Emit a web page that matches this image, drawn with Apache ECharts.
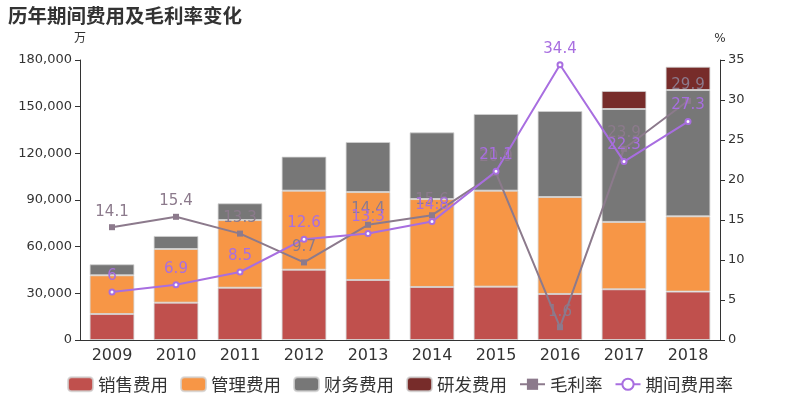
<!DOCTYPE html>
<html><head><meta charset="utf-8">
<script src="https://cdn.jsdelivr.net/npm/echarts@6/dist/echarts.min.js"></script>
<style>html,body{margin:0;padding:0;background:#fff}#c{width:800px;height:400px}</style>
</head><body><div id="c"></div>
<script>
const years = ['2009','2010','2011','2012','2013','2014','2015','2016','2017','2018'];
const sales = [16700, 24000, 33600, 45200, 38600, 34100, 34300, 29600, 32600, 31100];
const admin = [24900, 34500, 43500, 50800, 56500, 56500, 61700, 62300, 43300, 48400];
const finance = [7100, 8400, 10800, 21900, 32200, 42900, 49300, 55300, 72600, 81200];
const rnd = [null, null, null, null, null, null, null, null, 11600, 15000];
const grossMargin = [14.1, 15.4, 13.3, 9.7, 14.4, 15.6, 20.9, 1.6, 23.9, 29.9];
const expenseRate = [6, 6.9, 8.5, 12.6, 13.3, 14.8, 21.1, 34.4, 22.3, 27.3];

const chart = echarts.init(document.getElementById('c'));
const barBorder = {borderColor: 'rgba(210,210,210,0.8)', borderWidth: 1};
function bar(name, data, color) {
  return {name, type: 'bar', stack: 'cost', data, barWidth: '70%',
    itemStyle: Object.assign({color}, barBorder)};
}
chart.setOption({
  animation: false,
  textStyle: {fontFamily: '"DejaVu Sans", "Noto Sans CJK SC", sans-serif'},
  title: {text: '历年期间费用及毛利率变化', left: 3, top: 1,
    textStyle: {fontSize: 19.5, fontWeight: 'bold', color: '#333', fontFamily: '"Noto Sans CJK SC", sans-serif'}},
  legend: {bottom: 2, left: 'center', itemWidth: 25, itemHeight: 14, itemGap: 12,
    textStyle: {fontSize: 17.5, color: '#333', fontFamily: '"Noto Sans CJK SC", sans-serif'},
    data: ['销售费用','管理费用','财务费用','研发费用','毛利率','期间费用率']},
  grid: {left: 80, right: 80, top: 60, bottom: 60},
  xAxis: {type: 'category', data: years,
    axisLine: {lineStyle: {color: '#333'}}, axisTick: {lineStyle: {color: '#333'}},
    axisLabel: {fontSize: 16, color: '#333'}},
  yAxis: [
    {type: 'value', name: '万', min: 0, max: 180000, interval: 30000,
      nameTextStyle: {color: '#333', fontSize: 12},
      axisLine: {show: true, lineStyle: {color: '#333'}}, axisTick: {show: true},
      splitLine: {show: false},
      axisLabel: {fontSize: 13, color: '#333', formatter: v => v.toLocaleString('en-US')}},
    {type: 'value', name: '%', min: 0, max: 35, interval: 5,
      nameTextStyle: {color: '#333', fontSize: 12},
      axisLine: {show: true, lineStyle: {color: '#333'}}, axisTick: {show: true},
      splitLine: {show: false},
      axisLabel: {fontSize: 13, color: '#333'}}
  ],
  series: [
    bar('销售费用', sales, '#c0504d'),
    bar('管理费用', admin, '#f79646'),
    bar('财务费用', finance, '#777777'),
    bar('研发费用', rnd, '#772c2a'),
    {name: '毛利率', type: 'line', yAxisIndex: 1, data: grossMargin,
      symbol: 'rect', symbolSize: 6, lineStyle: {width: 2, color: '#8c7a8c'},
      itemStyle: {color: '#8c7a8c'},
      label: {show: true, position: 'top', fontSize: 15, color: '#8c7a8c'}},
    {name: '期间费用率', type: 'line', yAxisIndex: 1, data: expenseRate,
      symbol: 'emptyCircle', symbolSize: 5, lineStyle: {width: 2, color: '#a86ee0'},
      itemStyle: {color: '#a86ee0'},
      label: {show: true, position: 'top', fontSize: 15, color: '#a86ee0'}}
  ]
});
</script></body></html>
